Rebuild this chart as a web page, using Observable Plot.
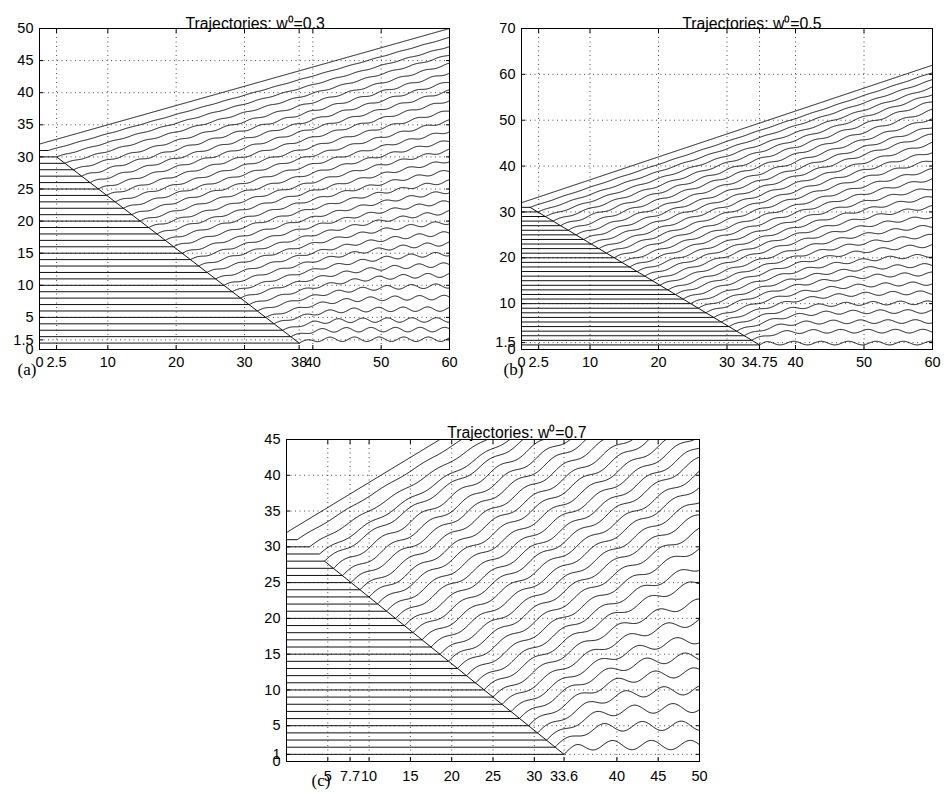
<!DOCTYPE html>
<html><head><meta charset="utf-8">
<script src="https://cdn.jsdelivr.net/npm/d3@7"></script>
<script src="https://cdn.jsdelivr.net/npm/@observablehq/plot@0.6"></script>
<style>
html,body{margin:0;padding:0;background:#fff;}
#root{position:relative;width:944px;height:794px;overflow:hidden;background:#fff;}
</style></head><body><div id="root"></div>
<script>
// ---------- data ----------
const levels = [1,2,3,4,5,6,7,8,9,10,11,12,13,14,15,16,17,18,19,20,21,22,23,24,25,26,27,28,29,30,31,32];

// panel (a): w0 = 0.3
const depA = [38.0,36.8,35.6,34.3,33.1,31.9,30.7,29.4,28.2,27.0,25.8,24.5,23.3,22.1,20.9,19.6,18.4,17.2,16.0,14.7,13.5,12.3,11.1,9.8,8.6,7.4,6.2,5.0,3.7,2.5,1.3,0];
const endA = [1.6,3.1,4.6,6.3,8.1,9.9,11.6,13.2,14.9,16.5,18.1,19.8,21.4,23.0,24.6,26.2,27.8,29.4,31.0,32.5,34.0,35.6,37.2,38.8,40.3,41.7,43.1,44.5,45.9,47.2,48.6,50.0];
const diagAx = [2.5, 38], diagAy = [30, 1];
const xTicksA = [0, 2.5, 10, 20, 30, 38, 40, 50, 60];
const yTicksA = [0, 1.5, 5, 10, 15, 20, 25, 30, 35, 40, 45, 50];

// panel (b): w0 = 0.5
const depB = [34.75,33.6,32.5,31.4,30.3,29.2,28.1,26.9,25.8,24.7,23.6,22.5,21.4,20.2,19.1,18.0,16.9,15.8,14.7,13.5,12.4,11.3,10.2,9.1,8.0,6.8,5.7,4.6,3.5,2.4,1.25,0];
const endB = [1.4,4.0,6.1,8.3,10.2,12.4,14.4,16.5,18.4,20.5,22.7,24.8,26.9,29.0,31.1,33.2,35.2,37.2,39.2,41.2,43.1,45.0,46.9,48.6,50.4,52.2,54.1,55.7,57.2,58.8,60.4,62.0];
const diagBx = [1.25, 34.75], diagBy = [31, 1];
const xTicksB = [0, 2.5, 10, 20, 30, 34.75, 40, 50, 60];
const yTicksB = [0, 1.5, 10, 20, 30, 40, 50, 60, 70];

// panel (c): w0 = 0.7
const depC = [33.6,32.5,31.5,30.4,29.3,28.2,27.2,26.1,25.0,23.9,22.9,21.8,20.7,19.6,18.6,17.5,16.4,15.3,14.3,13.2,12.1,11.0,10.0,8.9,7.8,6.8,5.7,4.6,4.0,2.8,1.3,0];
const endC = [2.3,5.0,7.5,10.0,12.5,14.7,17.1,19.6,22.2,25.0,27.2,29.8,32.2,34.4,36.5,38.5,40.3,42.3,44.0,45.8,47.5,49.3,51.0,52.8,54.5,56.2,58.0,59.8,61.2,63.0,65.1,67.0];
const diagCx = [4.6, 33.6], diagCy = [28, 1];
const xTicksC = [5, 7.7, 10, 15, 20, 25, 30, 33.6, 40, 45, 50];
const yTicksC = [0, 1, 5, 10, 15, 20, 25, 30, 35, 40, 45];

// oscillation read from the wiggles: period, amplitude when stopped, amplitude when moving
const waveA = [3.6, 0.35, 0.15];
const waveB = [4.0, 0.40, 0.22];
const waveC = [4.7, 0.65, 0.35];

// ---------- build trajectories ----------
function trajectories(levels, deps, ends, w0, tEnd, wave) {
  const [period, ampFlat, ampMove] = wave;
  const n = 3, rows = [], top = d3.max(levels);
  levels.forEach((lv, i) => {
    const t0 = deps[i], T = tEnd - t0, L = w0 * T, E = ends[i] - lv;
    const D = E >= L ? Infinity : L / Math.pow(Math.pow(L / E, n) - 1, 1 / n);
    const mk = Math.min(1, (top - lv) / 5);
    rows.push({id: i, t: 0, y: lv}, {id: i, t: t0, y: lv});
    const steps = Math.ceil(T / 0.1);
    for (let j = 1; j <= steps; j++) {
      const tau = Math.min(T, j * 0.1);
      let f, sl;
      if (!isFinite(D)) { f = w0 * tau; sl = 1; }
      else {
        const x = w0 * tau / D, q = 1 + Math.pow(x, n);
        f = D * x / Math.pow(q, 1 / n);
        sl = Math.pow(q, -1 - 1 / n);
      }
      const amp = mk * (ampMove * sl + ampFlat * (1 - sl));
      rows.push({id: i, t: t0 + tau, y: lv + f + amp * Math.sin(2 * Math.PI * tau / period)});
    }
  });
  return rows;
}

const fmt = d => String(d);
function panel(o) {
  const rows = trajectories(levels, o.deps, o.ends, o.w0, o.tEnd, o.wave);
  const diag = o.diagX.map((x, i) => ({t: x, y: o.diagY[i]}));
  const svg = Plot.plot({
    width: o.width, height: o.height,
    marginLeft: o.m[0], marginRight: o.m[1], marginTop: o.m[2], marginBottom: o.m[3],
    x: {domain: [0, o.tEnd], label: null},
    y: {domain: [0, o.yMax], label: null},
    style: {fontFamily: "'Liberation Sans', Arial, sans-serif", fontSize: "14.5px", color: "black", background: "white", overflow: "visible"},
    marks: [
      Plot.gridX(o.xTicks, {stroke: "#000", strokeOpacity: 0.7, strokeDasharray: "1,3.5"}),
      Plot.gridY(o.yTicks, {stroke: "#000", strokeOpacity: 0.7, strokeDasharray: "1,3.5"}),
      Plot.line(rows, {x: "t", y: "y", z: "id", stroke: "#111", strokeWidth: 1, clip: true}),
      Plot.line(diag, {x: "t", y: "y", stroke: "#111", strokeWidth: 1}),
      Plot.axisX(o.xTicks, {anchor: "bottom", tickSize: 0, tickPadding: o.xPad, tickFormat: fmt}),
      Plot.axisX(o.xTicks, {anchor: "bottom", tickSize: -4, fill: "none"}),
      Plot.axisX(o.xTicks, {anchor: "top", tickSize: -4, fill: "none"}),
      Plot.axisY(o.yTicks, {anchor: "left", tickSize: 0, tickPadding: 6, tickFormat: fmt}),
      Plot.axisY(o.yTicks, {anchor: "left", tickSize: -4, fill: "none"}),
      Plot.axisY(o.yTicks, {anchor: "right", tickSize: -4, fill: "none"}),
      Plot.frame({stroke: "#000", strokeWidth: 1}),
      Plot.text([o.title], {frameAnchor: "top-left", dx: o.titleD[0], dy: o.titleD[1], textAnchor: "start", fontSize: 15.8}),
      Plot.text([o.tag], {frameAnchor: "bottom-left", dx: o.tagD[0], dy: o.tagD[1], fontFamily: "'Liberation Serif', 'Times New Roman', serif", fontSize: 17})
    ]
  });
  svg.style.position = "absolute";
  svg.style.left = o.left + "px";
  svg.style.top = o.top + "px";
  document.getElementById("root").appendChild(svg);
}

panel({deps: depA, ends: endA, w0: 0.3, tEnd: 60, yMax: 50, wave: waveA, diagX: diagAx, diagY: diagAy,
  xTicks: xTicksA, yTicks: yTicksA, title: "Trajectories: w\u2070=0.3", titleD: [146, -10.8], tag: "(a)", tagD: [-22, 25], xPad: 7,
  width: 470, height: 380, m: [39, 21, 28, 31], left: 0, top: 0});
panel({deps: depB, ends: endB, w0: 0.5, tEnd: 60, yMax: 70, wave: waveB, diagX: diagBx, diagY: diagBy,
  xTicks: xTicksB, yTicks: yTicksB, title: "Trajectories: w\u2070=0.5", titleD: [160.7, -10.8], tag: "(b)", tagD: [-18, 25], xPad: 7,
  width: 474, height: 380, m: [51, 12, 28, 31], left: 470, top: 0});
panel({deps: depC, ends: endC, w0: 0.7, tEnd: 50, yMax: 45, wave: waveC, diagX: diagCx, diagY: diagCy,
  xTicks: xTicksC, yTicks: yTicksC, title: "Trajectories: w\u2070=0.7", titleD: [160.7, -13.1], tag: "(c)", tagD: [25, 24], xPad: 9,
  width: 490, height: 394, m: [56, 21, 39, 33], left: 230, top: 400});
</script></body></html>
